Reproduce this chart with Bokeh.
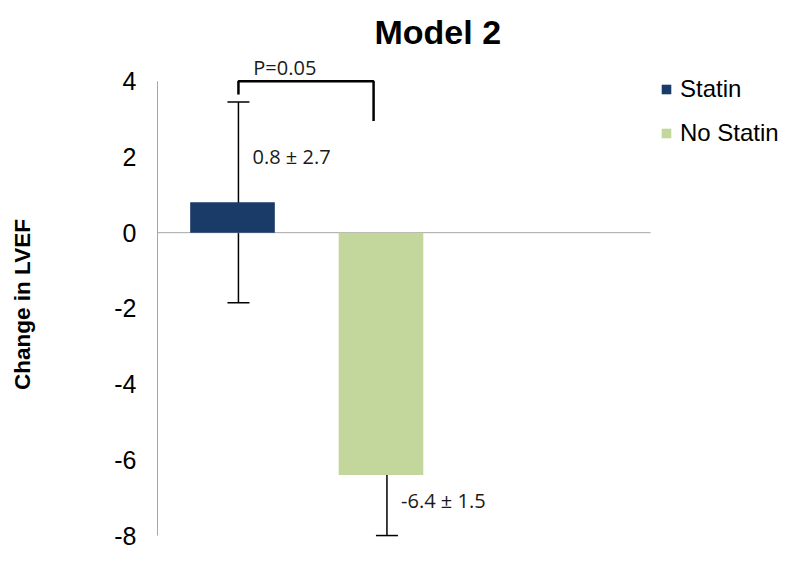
from bokeh.plotting import figure
from bokeh.models import (Range1d, FixedTicker, Whisker, TeeHead, ColumnDataSource,
                          Legend, LegendItem, Label, PrintfTickFormatter)
from bokeh.core.properties import value
from bokeh.embed import file_html
from bokeh.resources import INLINE

# ---- data ----
categories = ["Statin", "No Statin"]
x_pos = [1, 2]
means = [0.8, -6.4]
err_low = [-1.85, -8.0]
err_high = [3.45, -5.05]
value_labels = ["0.8 ± 2.7", "-6.4 ± 1.5"]
value_label_y = [2.0, -7.08]
colors = ["#1A3A68", "#C3D69B"]
y_ticks = [-8, -6, -4, -2, 0, 2, 4]
y_min, y_max = -8, 4
p_text = "P=0.05"
p_text_y = 4.36
bracket_y = [3.65, 4.0, 4.0, 2.95]
bracket_right_x = 1.95

# ---- layout constants ----
ERR_SHIFT = 0.04
LABEL_SHIFT = 0.135
AXIS_X = 0.495
ZERO_END_X = 3.815

src = ColumnDataSource(dict(
    x=x_pos, top=means, color=colors, cat=categories,
    ex=[x + ERR_SHIFT for x in x_pos], lo=err_low, hi=err_high,
    lx=[x + LABEL_SHIFT for x in x_pos], ly=value_label_y, lab=value_labels,
))

p = figure(width=784, height=550, output_backend="svg", toolbar_location=None,
           x_range=Range1d(0.4815, 4.717), y_range=Range1d(-8.395, 4.6),
           min_border_left=155, min_border_right=0, min_border_top=58,
           min_border_bottom=0)
p.outline_line_color = None
p.xgrid.visible = False
p.ygrid.visible = False
p.xaxis.visible = False
p.background_fill_color = "white"

p.title.text = "Model 2"
p.title.text_font = "Liberation Sans"
p.title.text_font_style = "bold"
p.title.text_font_size = "34px"
p.title.text_color = "black"
p.title.align = "left"
p.title.offset = 219
p.title.standoff = 16

yax = p.yaxis[0]
yax.ticker = FixedTicker(ticks=y_ticks)
yax.formatter = PrintfTickFormatter(format="%d")
yax.axis_line_color = None
yax.major_tick_line_color = None
yax.minor_tick_line_color = None
yax.major_label_text_font = "Liberation Sans"
yax.major_label_text_font_size = "25px"
yax.major_label_text_color = "black"
yax.major_label_standoff = 13
yax.axis_label = "Change in LVEF"
yax.axis_label_text_font = "Liberation Sans"
yax.axis_label_text_font_style = "bold"
yax.axis_label_text_font_size = "22.5px"
yax.axis_label_text_color = "black"
yax.axis_label_standoff = 76

# vertical axis line (only over the tick range) and zero line
p.segment(x0=[AXIS_X], y0=[y_min], x1=[AXIS_X], y1=[y_max], line_color="#a6a6a6", line_width=1)
p.segment(x0=[AXIS_X], y0=[0], x1=[ZERO_END_X], y1=[0], line_color="#a6a6a6", line_width=1)

bars = p.vbar(x="x", top="top", bottom=0, width=0.57, fill_color="color",
              line_color=None, source=src)

wh = Whisker(base="ex", lower="lo", upper="hi", source=src, line_color="black",
             line_width=1.5,
             upper_head=TeeHead(size=22, line_color="black", line_width=1.5),
             lower_head=TeeHead(size=22, line_color="black", line_width=1.5))
p.add_layout(wh)

p.text(x="lx", y="ly", text="lab", source=src, text_font=value("Open Sans"),
       text_font_size="20px", text_baseline="middle", text_align="left",
       text_color="#1a1a1a")

# significance bracket
bx = [x_pos[0] + ERR_SHIFT, x_pos[0] + ERR_SHIFT, bracket_right_x, bracket_right_x]
p.line(x=bx, y=bracket_y, line_color="black", line_width=2.5)
p.add_layout(Label(x=x_pos[0] + LABEL_SHIFT + 0.005, y=p_text_y, text=p_text,
                   text_font="Open Sans", text_font_size="20px",
                   text_baseline="middle", text_align="left", text_color="#1a1a1a"))

legend = Legend(items=[LegendItem(label=categories[i], renderers=[bars], index=i)
                       for i in range(len(categories))],
                location=(505, 403), glyph_width=12, glyph_height=12,
                label_standoff=8, spacing=16, padding=0, margin=0,
                border_line_color=None, background_fill_alpha=0,
                label_text_font="Liberation Sans", label_text_font_size="24px",
                label_text_color="black")
p.add_layout(legend)

open("out.html", "w").write(file_html(p, INLINE))
